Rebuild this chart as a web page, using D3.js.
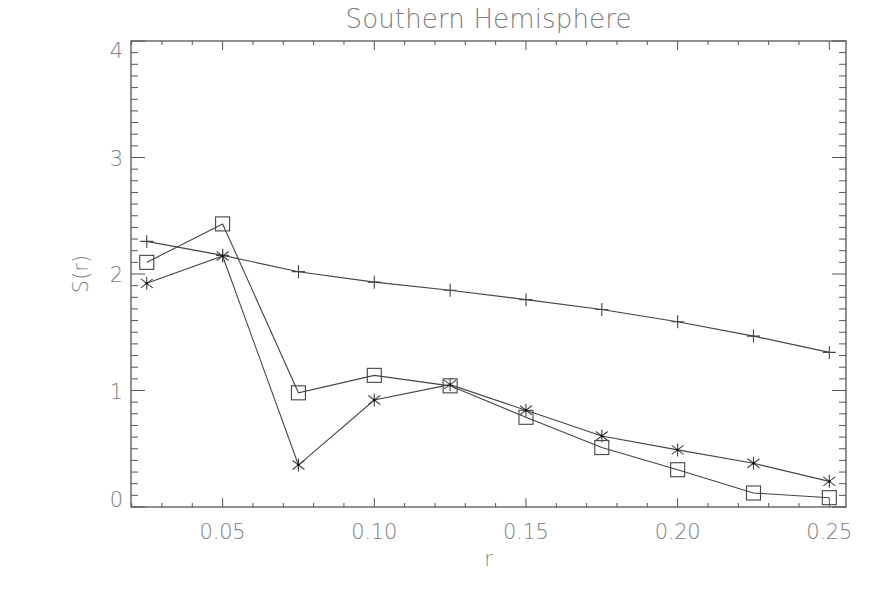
<!DOCTYPE html>
<html>
<head>
<meta charset="utf-8">
<script src="https://cdn.jsdelivr.net/npm/d3@7"></script>
<style>
  body { margin: 0; background: #fff; }
  text { font-family: "DejaVu Sans", sans-serif; font-weight: 200; fill: #808080; }
</style>
</head>
<body>
<div id="chart"></div>
<script>
// data
var rValues = [0.025, 0.05, 0.075, 0.10, 0.125, 0.15, 0.175, 0.20, 0.225, 0.25];
var plusSeries = [2.28, 2.16, 2.02, 1.93, 1.86, 1.78, 1.695, 1.59, 1.467, 1.327];
var squareSeries = [2.10, 2.43, 0.98, 1.13, 1.04, 0.77, 0.51, 0.32, 0.12, 0.08];
var starSeries = [1.92, 2.155, 0.36, 0.918, 1.05, 0.83, 0.61, 0.49, 0.375, 0.22];

var xTicks = [0.05, 0.10, 0.15, 0.20, 0.25];
var xTickLabels = ["0.05", "0.10", "0.15", "0.20", "0.25"];
var yTicks = [0, 1, 2, 3, 4];

var width = 886, height = 590;
var margin = {top: 41, right: 40, bottom: 83, left: 131};
var lineColor = "#444", axisColor = "#555";

var svg = d3.select("#chart").append("svg")
  .attr("width", width)
  .attr("height", height);

var x = d3.scaleLinear().domain([0.0198, 0.2555]).range([margin.left, width - margin.right]);
var y = d3.scaleLinear().domain([0, 4]).range([height - margin.bottom, margin.top]);

var x0 = x.range()[0], x1 = x.range()[1];
var y0 = y.range()[0], y1 = y.range()[1];

// frame
svg.append("rect")
  .attr("x", x0).attr("y", y1)
  .attr("width", x1 - x0).attr("height", y0 - y1)
  .attr("fill", "none").attr("stroke", axisColor).attr("stroke-width", 1.3);

var xMinor = d3.range(2, 26).map(function(d) { return d / 100; });
var yMinor = d3.range(0, 41).map(function(d) { return d / 10; });

var ticks = svg.append("g").attr("stroke", axisColor).attr("stroke-width", 1);

// x ticks, bottom and top, pointing in
xMinor.forEach(function(v) {
  var major = xTicks.some(function(t) { return Math.abs(t - v) < 1e-6; });
  var len = major ? 9 : 4;
  ticks.append("line").attr("x1", x(v)).attr("x2", x(v)).attr("y1", y0).attr("y2", y0 - len);
  ticks.append("line").attr("x1", x(v)).attr("x2", x(v)).attr("y1", y1).attr("y2", y1 + len);
});

// y ticks, left and right
yMinor.forEach(function(v) {
  var major = Math.abs(v - Math.round(v)) < 1e-6;
  var len = major ? 14 : 7;
  ticks.append("line").attr("x1", x0).attr("x2", x0 + len).attr("y1", y(v)).attr("y2", y(v));
  ticks.append("line").attr("x1", x1).attr("x2", x1 - len).attr("y1", y(v)).attr("y2", y(v));
});

// tick labels
svg.selectAll(".xlab")
  .data(xTicks)
  .enter().append("text")
  .attr("class", "xlab")
  .attr("x", function(d) { return x(d); })
  .attr("y", y0 + 32)
  .attr("text-anchor", "middle")
  .attr("textLength", 46)
  .attr("lengthAdjust", "spacing")
  .style("font-size", "21px")
  .text(function(d, i) { return xTickLabels[i]; });

svg.selectAll(".ylab")
  .data(yTicks)
  .enter().append("text")
  .attr("class", "ylab")
  .attr("x", x0 - 8)
  .attr("y", function(d) {
    var p = Math.min(Math.max(y(d), y1 + 9), y0 - 8);
    return p + 8;
  })
  .attr("text-anchor", "end")
  .style("font-size", "21px")
  .text(function(d) { return d; });

// titles
svg.append("text")
  .attr("x", (x0 + x1) / 2)
  .attr("y", 28)
  .attr("text-anchor", "middle")
  .attr("textLength", 286)
  .attr("lengthAdjust", "spacing")
  .style("font-size", "26px")
  .text("Southern Hemisphere");

svg.append("text")
  .attr("x", (x0 + x1) / 2)
  .attr("y", 566)
  .attr("text-anchor", "middle")
  .style("font-size", "21px")
  .text("r");

svg.append("text")
  .attr("transform", "translate(88," + ((y0 + y1) / 2) + ") rotate(-90)")
  .attr("text-anchor", "middle")
  .style("font-size", "21px")
  .text("S(r)");

// series
var line = d3.line()
  .x(function(d) { return x(d[0]); })
  .y(function(d) { return y(d[1]); });

function drawSeries(values, marker) {
  var pts = rValues.map(function(r, i) { return [r, values[i]]; });
  svg.append("path")
    .attr("d", line(pts))
    .attr("fill", "none")
    .attr("stroke", lineColor)
    .attr("stroke-width", 1.1);
  var g = svg.append("g").attr("stroke", lineColor).attr("fill", "none").attr("stroke-width", 1.1);
  pts.forEach(function(p) {
    var cx = x(p[0]), cy = y(p[1]);
    if (marker == "plus") {
      g.append("path").attr("d", "M" + (cx - 6.5) + "," + cy + "H" + (cx + 6.5) + "M" + cx + "," + (cy - 6.5) + "V" + (cy + 6.5));
    } else if (marker == "square") {
      g.append("rect").attr("x", cx - 7).attr("y", cy - 7).attr("width", 14).attr("height", 14);
    } else {
      g.append("path").attr("d",
        "M" + cx + "," + (cy - 6.5) + "V" + (cy + 6.5) +
        "M" + (cx - 6) + "," + (cy - 4.5) + "L" + (cx + 6) + "," + (cy + 4.5) +
        "M" + (cx - 6) + "," + (cy + 4.5) + "L" + (cx + 6) + "," + (cy - 4.5));
      g.append("circle").attr("cx", cx).attr("cy", cy).attr("r", 1.2).attr("fill", "#000").attr("stroke", "none");
    }
  });
}

drawSeries(plusSeries, "plus");
drawSeries(squareSeries, "square");
drawSeries(starSeries, "star");
</script>
</body>
</html>
